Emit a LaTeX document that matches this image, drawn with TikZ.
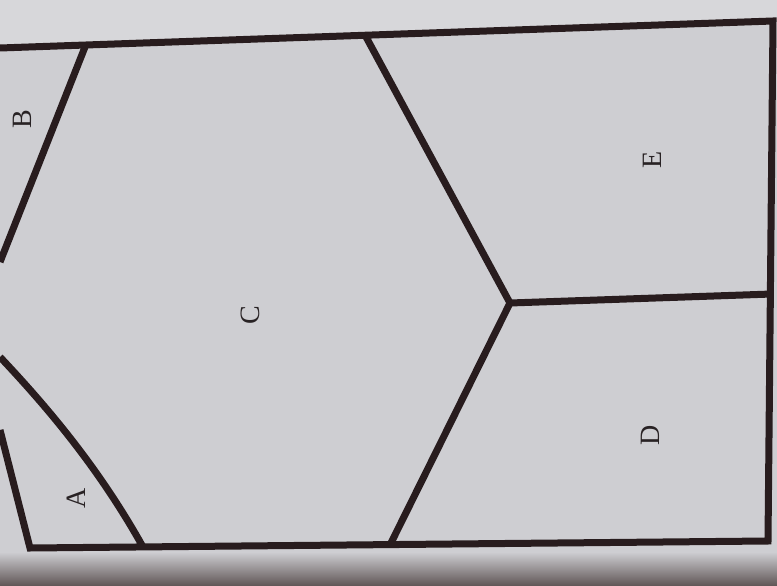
\documentclass[tikz,border=0pt]{standalone}
\usepackage{fontspec}
\setmainfont{Liberation Serif}
\definecolor{paper}{RGB}{206,206,210}
\definecolor{paperlight}{RGB}{215,215,218}
\definecolor{ink}{RGB}{40,28,30}
\definecolor{textink}{RGB}{40,34,36}
\definecolor{bottomdark}{RGB}{95,85,85}
\begin{document}
\begin{tikzpicture}[x=1pt,y=-1pt,
  border/.style={line width=7pt, draw=ink, line join=miter},
  lbl/.style={font=\fontsize{28}{28}\selectfont, text=textink, rotate=90, inner sep=0pt}]
\useasboundingbox (0,0) rectangle (777,586);
\clip (0,0) rectangle (777,586);
\fill[paper] (0,0) rectangle (777,586);
\shade[top color=paper, bottom color=bottomdark] (0,552) rectangle (777,586);
\fill[paperlight] (0,0) -- (777,0) -- (777,20) -- (0,47) -- cycle;
% corners
\coordinate (tl) at (0,48);
\coordinate (tr) at (773,21);
\coordinate (br) at (768,541);
\coordinate (bl) at (30,548);
\coordinate (lt) at (0,430);
\coordinate (b1) at (85,47);
\coordinate (b2) at (0,262);
\coordinate (a1) at (0,357);
\coordinate (a2) at (143,547);
\coordinate (c1) at (365,35);
\coordinate (j) at (510,303);
\coordinate (d1) at (390,545);
\coordinate (e1) at (772,294);
% frame
\draw[border] (tl) -- (tr) -- (br) -- (bl) -- (lt);
% inner boundaries
\draw[border] (b1) -- (b2);
\draw[border] (a1) .. controls (50,410) and (100,470) .. (a2);
\draw[border] (c1) -- (j) -- (d1);
\draw[border] (j) -- (e1);
% labels
\node[lbl] (B) at (22,119) {B};
\node[lbl] (C) at (250,315) {C};
\node[lbl] (E) at (652,160) {E};
\node[lbl] (D) at (650,435) {D};
\node[lbl] (A) at (76,498) {A};
\end{tikzpicture}
\end{document}
